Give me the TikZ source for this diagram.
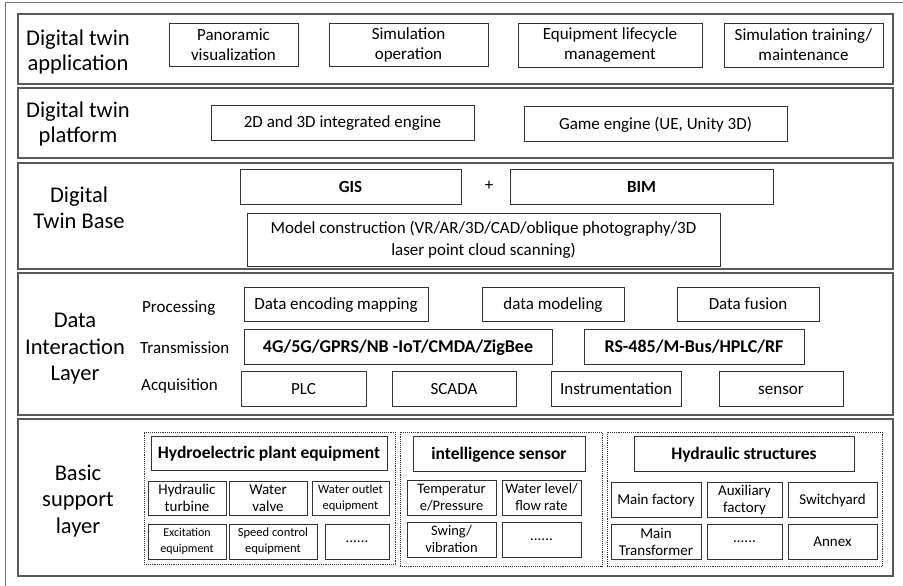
\documentclass[tikz,border=0pt]{standalone}
\usepackage{fontspec}
\setmainfont{Carlito}
\newcommand\fs[2]{\fontsize{#1}{#2}\selectfont}
% \bx[options]{name}{x1}{y1}{x2}{y2}{text}
\newcommand\bx[7][]{\node[box,minimum width={(#5-#3)*1pt},minimum height={(#6-#4)*1pt},#1] (#2) at ({(#3+#5)/2},{(#4+#6)/2}) {#7};}
\begin{document}
\begin{tikzpicture}[x=1pt,y=-1pt,
  box/.style={draw=black!80,line width=0.9pt,align=center,inner sep=1pt,font=\fs{17}{20}},
  sl/.style={text height=13pt,text depth=2pt},
  layer/.style={box,draw=black!65,line width=1.5pt},
  grp/.style={box,draw=black!80,densely dotted,line width=0.8pt},
  bbox/.style={box,sl,font=\fs{18}{21}\bfseries},
  lbl/.style={align=center,inner sep=0pt,font=\fs{22.5}{25}},
  sub/.style={anchor=west,inner sep=0pt,font=\fs{17}{20}}]
\useasboundingbox (0,0) rectangle (903,586);
\fill[white] (0,0) rectangle (903,586);
\draw[black!55,line width=1pt] (5,3) rectangle (915,600);

% layers
\bx[layer]{Lapp}{18}{14}{893}{84}{}
\bx[layer]{Lplat}{18}{88}{893}{158}{}
\bx[layer]{Lbase}{18}{163}{893}{269}{}
\bx[layer]{Ldata}{18}{273}{893}{415}{}
\bx[layer]{Lbasic}{18}{419}{893}{576}{}

% layer labels
\node[lbl] (tapp) at (78,52) {Digital twin\\application};
\node[lbl] (tplat) at (78,124) {Digital twin\\platform};
\node[lbl,font=\fs{22.5}{26}] (tbase) at (79,208) {Digital\\Twin Base};
\node[lbl,font=\fs{22.5}{26.5}] (tdata) at (75,349) {Data\\Interaction\\Layer};
\node[lbl,font=\fs{22.5}{26.5}] (tbasic) at (78,501) {Basic\\support\\layer};

% application
\bx{a1}{169}{23}{298}{66}{Panoramic\\visualization}
\bx{a2}{329}{23}{488}{66}{Simulation\\operation}
\bx{a3}{518}{23}{702}{67}{Equipment lifecycle\\management}
\bx{a4}{724}{23}{883}{67}{Simulation training/\\maintenance}

% platform
\bx[sl]{p1}{211}{105}{474}{140}{2D and 3D integrated engine}
\bx[sl]{p2}{524}{106}{787}{141}{Game engine (UE, Unity 3D)}

% base
\bx[bbox,font=\fs{17}{20}\bfseries]{gis}{240}{169}{461}{204}{GIS}
\node[font=\fs{17}{20}] (plus) at (489,186) {+};
\bx[bbox,font=\fs{17}{20}\bfseries]{bim}{510}{169}{773}{204}{BIM}
\bx[font=\fs{17}{22}]{model}{247}{213}{720}{266}{Model construction (VR/AR/3D/CAD/oblique photography/3D\\laser point cloud scanning)}

% data interaction
\node[sub] (sproc) at (142,308) {Processing};
\node[sub] (strans) at (140,348) {Transmission};
\node[sub] (sacq) at (141,386) {Acquisition};
\bx[sl]{d1}{244}{287}{428}{321}{Data encoding mapping}
\bx[sl]{d2}{482}{287}{624}{321}{data modeling}
\bx[sl]{d3}{677}{287}{819}{321}{Data fusion}
\bx[bbox]{t1}{244}{329}{552}{364}{4G/5G/GPRS/NB -IoT/CMDA/ZigBee}
\bx[bbox]{t2}{584}{329}{804}{364}{RS-485/M-Bus/HPLC/RF}
\bx[sl]{q1}{241}{371}{366}{406}{PLC}
\bx[sl]{q2}{392}{371}{516}{406}{SCADA}
\bx[sl]{q3}{551}{371}{681}{406}{Instrumentation}
\bx[sl]{q4}{719}{371}{843}{406}{sensor}

% basic support
\bx[grp]{g1}{144}{432}{395}{564}{}
\bx[grp]{g2}{400}{432}{602}{566}{}
\bx[grp]{g3}{607}{432}{882}{566}{}

\bx[bbox,font=\fs{17.5}{20}\bfseries]{h1}{151}{436}{387}{470}{Hydroelectric plant equipment}
\bx[bbox,font=\fs{17.5}{20}\bfseries]{h2}{413}{436}{585}{471}{intelligence sensor}
\bx[bbox,font=\fs{17.5}{20}\bfseries]{h3}{634}{436}{854}{471}{Hydraulic structures}

\bx[font=\fs{15}{17}]{e1}{148}{481}{226}{515}{Hydraulic\\turbine}
\bx[font=\fs{15}{17}]{e2}{229}{481}{307}{515}{Water\\valve}
\bx[font=\fs{12.5}{16}]{e3}{312}{481}{389}{515}{Water outlet\\equipment}
\bx[font=\fs{12}{16}]{e4}{148}{524}{226}{559}{Excitation\\equipment}
\bx[font=\fs{12.5}{16}]{e5}{229}{524}{317}{559}{Speed control\\equipment}
\bx[font=\fs{15}{17}]{e6}{325}{524}{389}{559}{......}

\bx[font=\fs{14.5}{17}]{s1}{407}{480}{496}{515}{Temperatur\\e/Pressure}
\bx[font=\fs{14.5}{17}]{s2}{502}{480}{581}{515}{Water level/\\flow rate}
\bx[font=\fs{14.5}{17}]{s3}{407}{522}{496}{557}{Swing/\\vibration}
\bx[font=\fs{15}{17}]{s4}{502}{522}{581}{557}{......}

\bx[font=\fs{15}{17},text height=11.5pt,text depth=1.5pt]{r1}{611}{482}{701}{517}{Main factory}
\bx[font=\fs{15}{17}]{r2}{707}{482}{782}{517}{Auxiliary\\factory}
\bx[font=\fs{15}{17},text height=11.5pt,text depth=1.5pt]{r3}{788}{482}{877}{517}{Switchyard}
\bx[font=\fs{15}{17}]{r4}{611}{524}{701}{559}{Main\\Transformer}
\bx[font=\fs{15}{17}]{r5}{707}{524}{782}{559}{......}
\bx[font=\fs{15}{17},text height=11.5pt,text depth=1.5pt]{r6}{788}{524}{877}{559}{Annex}
\end{tikzpicture}
\end{document}
